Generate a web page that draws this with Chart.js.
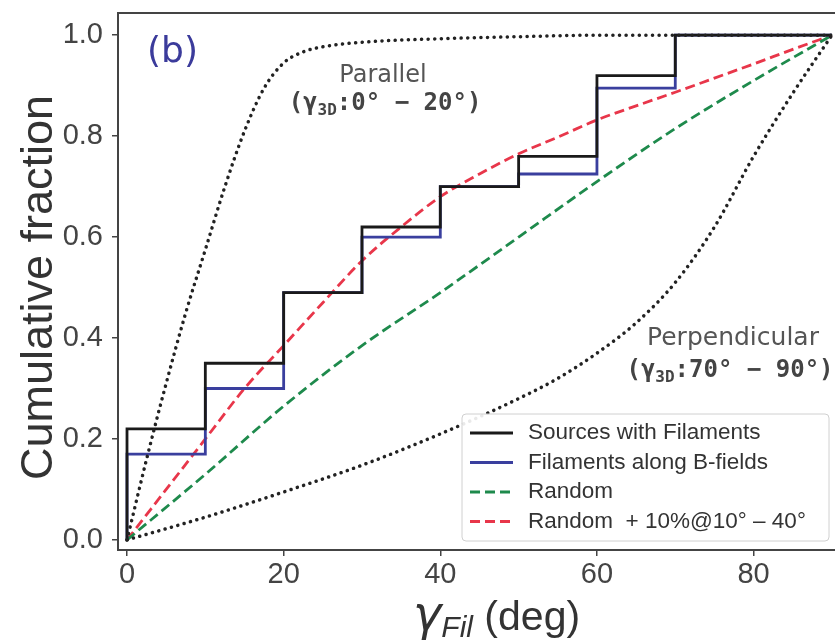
<!DOCTYPE html>
<html>
<head>
<meta charset="utf-8">
<script src="https://cdn.jsdelivr.net/npm/chart.js@4.4.1/dist/chart.umd.min.js"></script>
<style>
  html, body { margin: 0; background: #fff; overflow: hidden; }
  #wrap { width: 835px; height: 640px; overflow: hidden; }
  canvas { display: block; }
</style>
</head>
<body>
<div id="wrap">
  <!-- wider than the page: the right edge of the frame is cropped, as in the original -->
  <canvas id="cdfChart" width="880" height="640"></canvas>
</div>
<script>
// Step CDFs: value after each edge (0,10,...,70 deg), flat to 90
const stepEdges = [0, 10, 20, 30, 40, 50, 60, 70, 90];
const sourcesFrac = [0.22, 0.35, 0.49, 0.62, 0.70, 0.76, 0.92, 1.0];
const bfieldFrac = [0.17, 0.30, 0.49, 0.60, 0.70, 0.725, 0.895, 1.0];

// Model curves
const randomX = [0, 10, 20, 30, 40, 50, 60, 70, 80, 90];
const randomY = [0, 0.13, 0.265, 0.385, 0.49, 0.60, 0.71, 0.815, 0.91, 1.0];

const randomPlusX = [0, 5, 10, 15, 20, 25, 30, 35, 40, 45, 50, 55, 60, 65, 70, 75, 80, 85, 90];
const randomPlusY = [0, 0.10, 0.20, 0.30, 0.385, 0.47, 0.553, 0.62, 0.68, 0.725, 0.765, 0.798, 0.832, 0.86, 0.887, 0.915, 0.943, 0.972, 1.0];

const parallelX = [0, 2.5, 5, 7.5, 10, 12.5, 15, 17.5, 20, 22.5, 25, 30, 40, 50, 60, 70, 80, 90];
const parallelY = [0, 0.16, 0.31, 0.45, 0.575, 0.70, 0.81, 0.895, 0.945, 0.967, 0.977, 0.986, 0.993, 0.997, 1.0, 1.0, 1.0, 1.0];

const perpX = [0, 10, 20, 30, 40, 50, 55, 60, 65, 70, 75, 80, 85, 90];
const perpY = [0, 0.045, 0.095, 0.148, 0.21, 0.28, 0.32, 0.37, 0.43, 0.51, 0.62, 0.76, 0.885, 1.0];

const xTicks = [0, 20, 40, 60, 80];
const yTicks = [0, 0.2, 0.4, 0.6, 0.8, 1.0];

// Build point lists
function stepPoints(frac) {
  const pts = [{ x: stepEdges[0], y: 0 }];
  frac.forEach((f, i) => pts.push({ x: stepEdges[i], y: f }));
  pts.push({ x: stepEdges[stepEdges.length - 1], y: frac[frac.length - 1] });
  return pts;
}
function curvePoints(xs, ys) {
  return xs.map((x, i) => ({ x: x, y: ys[i] }));
}

const FONT = '"Liberation Sans", Arial, sans-serif';

// Frame, annotations, axis titles and legend
const decorPlugin = {
  id: 'decor',
  beforeDraw(chart) {
    const ctx = chart.ctx;
    ctx.save();
    ctx.fillStyle = '#fff';
    ctx.fillRect(0, 0, chart.width, chart.height);
    ctx.restore();
  },
  afterDraw(chart) {
    const ctx = chart.ctx;
    const a = chart.chartArea;
    ctx.save();

    // frame
    ctx.strokeStyle = '#444';
    ctx.lineWidth = 2;
    ctx.strokeRect(a.left, a.top, a.right - a.left, a.bottom - a.top);

    // panel label
    ctx.fillStyle = '#3b3b9b';
    ctx.font = '36px "DejaVu Sans", sans-serif';
    ctx.textBaseline = 'alphabetic';
    ctx.textAlign = 'left';
    ctx.fillText('(b)', 147, 62);

    // annotations
    ctx.textAlign = 'center';
    ctx.fillStyle = '#555';
    ctx.font = '24px "DejaVu Sans", sans-serif';
    ctx.fillText('Parallel', 383, 82);
    ctx.font = '25px "DejaVu Sans", sans-serif';
    ctx.fillText('Perpendicular', 733, 345);
    ctx.textAlign = 'left';
    drawRich(ctx, gammaParts('0', '20'), 385, 110);
    drawRich(ctx, gammaParts('70', '90'), 730, 377);

    // y-axis title
    ctx.save();
    ctx.translate(52, (a.top + a.bottom) / 2 + 6);
    ctx.rotate(-Math.PI / 2);
    ctx.textAlign = 'center';
    ctx.fillStyle = '#333';
    ctx.font = '45px ' + FONT;
    ctx.fillText('Cumulative fraction', 0, 0);
    ctx.restore();

    // x-axis title
    drawRich(ctx, [
      { t: 'γ', font: 'italic 48px "DejaVu Sans", sans-serif', color: '#333' },
      { t: 'Fil', font: 'italic 30px ' + FONT, color: '#333', dy: 7 },
      { t: ' (deg)', font: '41px ' + FONT, color: '#333' }
    ], (a.left + a.right) / 2, 630);

    // legend
    const lx = 462, ly = 414, lw = 367, lh = 127;
    ctx.fillStyle = 'rgba(255,255,255,0.9)';
    ctx.strokeStyle = '#d0d0d0';
    ctx.lineWidth = 1;
    ctx.beginPath();
    ctx.roundRect(lx, ly, lw, lh, 4);
    ctx.fill();
    ctx.stroke();
    const entries = chart.data.datasets.filter(d => d.legendOrder)
      .sort((p, q) => p.legendOrder - q.legendOrder);
    entries.forEach((d, i) => {
      const y = 433 + i * 29.5;
      ctx.save();
      ctx.strokeStyle = d.borderColor;
      ctx.lineWidth = d.borderWidth;
      ctx.setLineDash(d.borderDash || []);
      ctx.beginPath();
      ctx.moveTo(470, y);
      ctx.lineTo(513, y);
      ctx.stroke();
      ctx.restore();
      ctx.fillStyle = '#333';
      ctx.font = '22.5px ' + FONT;
      ctx.textAlign = 'left';
      ctx.textBaseline = 'middle';
      ctx.fillText(d.label, 528, y);
    });
    ctx.restore();
  }
};

function gammaParts(lo, hi) {
  const mono = 'bold 24px "DejaVu Sans Mono", monospace';
  const c = '#444';
  return [
    { t: '(', font: mono, color: c },
    { t: 'γ', font: mono, color: c },
    { t: '3D', font: 'bold 16px "DejaVu Sans Mono", monospace', color: c, dy: 5 },
    { t: ':', font: mono, color: c },
    { t: lo, font: mono, color: c },
    { t: '°', font: mono, color: c },
    { t: ' − ', font: mono, color: c },
    { t: hi, font: mono, color: c },
    { t: '°', font: mono, color: c },
    { t: ')', font: mono, color: c }
  ];
}

function drawRich(ctx, parts, cx, y) {
  ctx.save();
  ctx.textAlign = 'left';
  ctx.textBaseline = 'alphabetic';
  let total = 0;
  parts.forEach(p => { ctx.font = p.font; p.w = ctx.measureText(p.t).width; total += p.w; });
  let x = cx - total / 2;
  parts.forEach(p => {
    ctx.font = p.font;
    ctx.fillStyle = p.color;
    ctx.fillText(p.t, x, y + (p.dy || 0));
    x += p.w;
  });
  ctx.restore();
}

const dotted = { borderColor: '#222', borderWidth: 3.5, borderDash: [0.1, 6.5], borderCapStyle: 'round' };

new Chart(document.getElementById('cdfChart'), {
  type: 'line',
  data: {
    datasets: [
      Object.assign({ label: 'Parallel', data: curvePoints(parallelX, parallelY), cubicInterpolationMode: 'monotone' }, dotted),
      Object.assign({ label: 'Perpendicular', data: curvePoints(perpX, perpY), cubicInterpolationMode: 'monotone' }, dotted),
      {
        label: 'Sources with Filaments',
        legendOrder: 1,
        data: stepPoints(sourcesFrac),
        borderColor: '#1a1a1a',
        borderWidth: 2.8,
        stepped: 'before'
      },
      {
        label: 'Filaments along B-fields',
        legendOrder: 2,
        data: stepPoints(bfieldFrac),
        borderColor: '#3a3f9e',
        borderWidth: 2.8,
        stepped: 'before'
      },
      {
        label: 'Random',
        legendOrder: 3,
        data: curvePoints(randomX, randomY),
        borderColor: '#1e8a4c',
        borderWidth: 2.8,
        borderDash: [10, 5],
        cubicInterpolationMode: 'monotone'
      },
      {
        label: 'Random  + 10%@10° – 40°',
        legendOrder: 4,
        data: curvePoints(randomPlusX, randomPlusY),
        borderColor: '#e8364a',
        borderWidth: 2.8,
        borderDash: [10, 5],
        cubicInterpolationMode: 'monotone'
      }
    ]
  },
  options: {
    responsive: false,
    animation: false,
    layout: { padding: { top: 13, right: 5, left: 0, bottom: 0 } },
    elements: { point: { radius: 0 }, line: { tension: 0 } },
    plugins: { legend: { display: false }, tooltip: { enabled: false } },
    scales: {
      x: {
        type: 'linear',
        min: -1.15,
        max: 95.5,
        afterBuildTicks: s => { s.ticks = xTicks.map(v => ({ value: v })); },
        afterFit: s => { s.height = 90; s.paddingLeft = 0; s.paddingRight = 0; },
        border: { display: false },
        grid: { drawOnChartArea: false, drawTicks: true, tickLength: 6, color: '#444', lineWidth: 1.5 },
        ticks: { color: '#444', font: { family: FONT, size: 29 }, padding: 2, maxRotation: 0 }
      },
      y: {
        type: 'linear',
        min: -0.02,
        max: 1.044,
        afterBuildTicks: s => { s.ticks = yTicks.map(v => ({ value: v })); },
        afterFit: s => { s.width = 118; s.paddingTop = 0; s.paddingBottom = 0; },
        border: { display: false },
        grid: { drawOnChartArea: false, drawTicks: true, tickLength: 6, color: '#444', lineWidth: 1.5 },
        ticks: { color: '#444', font: { family: FONT, size: 29 }, padding: 9, callback: v => v.toFixed(1) }
      }
    }
  },
  plugins: [decorPlugin]
});
</script>
</body>
</html>
